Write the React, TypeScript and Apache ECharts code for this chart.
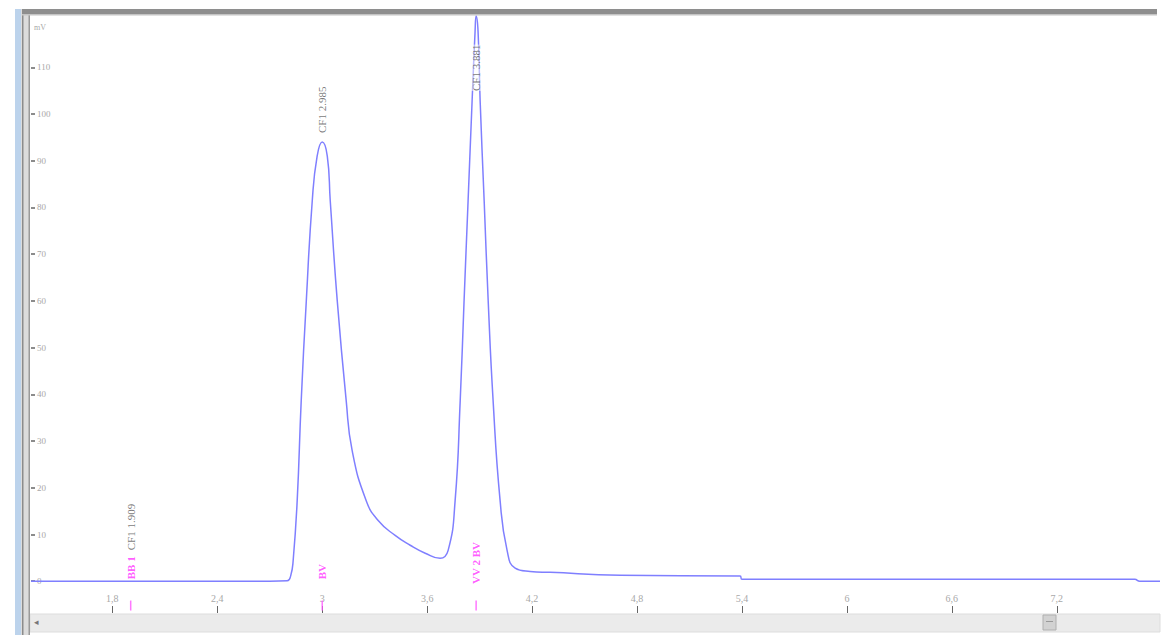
import React, { useEffect, useRef } from "react";
import * as echarts from "echarts";

// Retention time (min) and detector signal (mV)
const retentionTimes = [
  1.335, 1.9, 2.7, 2.8, 2.82, 2.834, 2.857, 2.88, 2.909, 2.943, 2.971, 3.0, 3.029,
  3.046, 3.086, 3.137, 3.171, 3.251, 3.32, 3.417, 3.503, 3.589, 3.674, 3.72,
  3.76, 3.789, 3.811, 3.834, 3.857, 3.874, 3.88, 3.891, 3.903, 3.926, 3.949,
  3.977, 4.017, 4.057, 4.103, 4.189, 4.303, 4.703, 5.389, 5.4, 7.646, 7.674, 7.79,
];
const signal = [
  0, 0, 0, 0.1, 1.2, 4.5, 17.3, 38.7, 60, 81.4, 91, 94, 91,
  81.4, 60, 38.7, 28, 17.3, 13, 9.8, 7.7, 6.0, 4.9, 6.6,
  17.3, 38.7, 60, 81.4, 102.8, 117.7, 121, 117.7, 102.8, 81.4, 60,
  38.7, 17.3, 6.6, 2.8, 2.1, 1.9, 1.3, 1.1, 0.4, 0.4, 0, 0,
];

const xTicks = [1.8, 2.4, 3, 3.6, 4.2, 4.8, 5.4, 6, 6.6, 7.2];
const yTicks = [0, 10, 20, 30, 40, 50, 60, 70, 80, 90, 100, 110];

const peakTimes = [1.905, 3.0, 3.88];
const peakLabelAnchors = [6.2, 95.5, 104.5];
const peakNames = ["CF1 1.909", "CF1 2.985", "CF1 3.881"];
const markerAnchors = [0.2, 0.2, -0.8];
const markerNames = ["BB 1", "BV", "VV 2 BV"];
const markerTickLevel = -5.2;

export default function App() {
  const ref = useRef<HTMLDivElement>(null);
  useEffect(() => {
    if (!ref.current) return;
    const chart = echarts.init(ref.current, null, { renderer: "svg" });
    const line = retentionTimes.map((t, i) => [t, signal[i]]);
    const labelFont = "Liberation Serif";
    chart.setOption({
      animation: false,
      backgroundColor: "#ffffff",
      grid: { left: 31, right: 11, top: 15, bottom: 22 },
      xAxis: {
        type: "value",
        min: 1.335,
        max: 7.79,
        axisLine: { show: false, onZero: false },
        splitLine: { show: false },
        axisTick: {
          show: true,
          inside: true,
          length: 7,
          customValues: xTicks,
          lineStyle: { color: "#666", width: 1 },
        },
        axisLabel: {
          inside: true,
          margin: 10,
          customValues: xTicks,
          color: "#a8a8a8",
          fontFamily: labelFont,
          fontSize: 10,
          formatter: (v: number) => String(v).replace(".", ","),
        },
      },
      yAxis: {
        type: "value",
        min: -6.8,
        max: 121.2,
        axisLine: { show: false, onZero: false },
        splitLine: { show: false },
        axisTick: {
          show: true,
          inside: true,
          length: 4,
          customValues: yTicks,
          lineStyle: { color: "#666", width: 1.5 },
        },
        axisLabel: {
          inside: true,
          margin: 6,
          customValues: yTicks,
          color: "#a8a8a8",
          fontFamily: labelFont,
          fontSize: 9,
        },
      },
      series: [
        {
          type: "line",
          data: line,
          smooth: 0.5,
          showSymbol: false,
          symbol: "none",
          lineStyle: { color: "#7f7fff", width: 1.5 },
          z: 3,
        },
        {
          type: "scatter",
          symbolSize: 0,
          data: peakTimes.map((t, i) => ({
            value: [t, peakLabelAnchors[i]],
            label: {
              show: true,
              formatter: peakNames[i],
              position: "top",
              distance: 2,
              rotate: 90,
              align: "left",
              verticalAlign: "middle",
              color: "#555",
              fontFamily: labelFont,
              fontSize: 11,
              backgroundColor: "rgba(255,255,255,0.6)",
            },
          })),
          z: 4,
        },
        {
          type: "scatter",
          symbolSize: 0,
          data: peakTimes.map((t, i) => ({
            value: [t, markerAnchors[i]],
            label: {
              show: true,
              formatter: markerNames[i],
              position: "top",
              distance: 1,
              rotate: 90,
              align: "left",
              verticalAlign: "middle",
              color: "#ff33ff",
              fontFamily: labelFont,
              fontWeight: "bold",
              fontSize: 11,
            },
          })),
          z: 5,
        },
        {
          type: "scatter",
          symbol: "rect",
          symbolSize: [1.5, 10],
          itemStyle: { color: "#ff55ff" },
          data: peakTimes.map((t) => [t, markerTickLevel]),
          z: 5,
        },
      ],
      graphic: [
        { type: "rect", shape: { x: 15, y: 9, width: 6, height: 626 }, style: { fill: "#bcd3ec" }, z: 10 },
        { type: "rect", shape: { x: 21, y: 9, width: 9, height: 626 }, style: { fill: "#dcdcdc" }, z: 10 },
        { type: "rect", shape: { x: 22, y: 9, width: 1.5, height: 626 }, style: { fill: "#8c8c8c" }, z: 11 },
        { type: "rect", shape: { x: 28.5, y: 12, width: 1.5, height: 623 }, style: { fill: "#9a9a9a" }, z: 11 },
        { type: "rect", shape: { x: 22, y: 9, width: 1135, height: 5 }, style: { fill: "#8e8e8e" }, z: 11 },
        { type: "rect", shape: { x: 22, y: 14, width: 1135, height: 1.5 }, style: { fill: "#c4c4c4" }, z: 11 },
        { type: "rect", shape: { x: 30, y: 614, width: 1130, height: 18 }, style: { fill: "#ebebeb", stroke: "#dddddd", lineWidth: 1 }, z: 10 },
        { type: "rect", shape: { x: 1043, y: 615, width: 13, height: 15 }, style: { fill: "#d2d2d2", stroke: "#b0b0b0", lineWidth: 1 }, z: 11 },
        { type: "rect", shape: { x: 1046, y: 621, width: 7, height: 1 }, style: { fill: "#999" }, z: 12 },
        { type: "text", x: 34, y: 617, style: { text: "◂", fill: "#777", fontSize: 9 }, z: 12 },
        { type: "text", x: 34, y: 23, style: { text: "mV", fill: "#a8a8a8", fontSize: 8, fontFamily: labelFont }, z: 12 },
      ],
    });
    return () => chart.dispose();
  }, []);
  return (
    <div
      ref={ref}
      style={{ position: "absolute", left: 0, top: 0, width: 1171, height: 635 }}
    />
  );
}
